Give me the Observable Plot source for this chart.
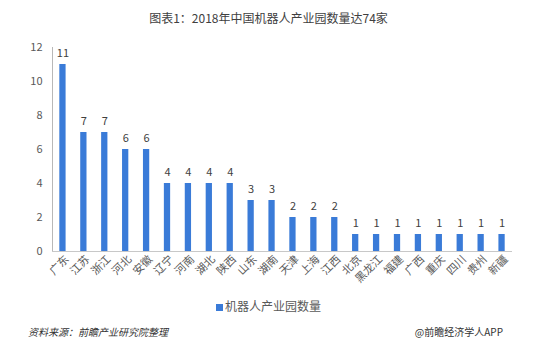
<!DOCTYPE html>
<html><head><meta charset="utf-8">
<script src="https://cdn.jsdelivr.net/npm/d3@7"></script>
<script src="https://cdn.jsdelivr.net/npm/@observablehq/plot@0.6"></script>
<style>
body{margin:0;background:#fff;font-family:"Noto Sans CJK SC","Noto Sans",sans-serif;}
#wrap{width:537px;height:359px;position:relative;overflow:hidden;}
#title{position:absolute;top:9px;left:0;width:537px;text-align:center;font-size:12px;color:#404040;}
#chart{position:absolute;top:30px;left:0;}
#legend{position:absolute;top:297px;left:0;width:537px;text-align:center;font-size:12px;color:#595959;}
#legend span.sw{display:inline-block;width:7px;height:7px;background:#3a7bd8;margin-right:2px;vertical-align:0px;}
#src{position:absolute;top:324px;left:28px;font-size:10px;font-style:italic;color:#333;}
#app{position:absolute;top:324px;right:34px;font-size:10px;color:#333;}
</style></head>
<body><div id="wrap">
<div id="title">图表1：2018年中国机器人产业园数量达74家</div>
<div id="chart"></div>
<div id="legend"><span class="sw"></span>机器人产业园数量</div>
<div id="src">资料来源：前瞻产业研究院整理</div>
<div id="app">@前瞻经济学人APP</div>
</div>
<script>
const provinces = ["广东","江苏","浙江","河北","安徽","辽宁","河南","湖北","陕西","山东","湖南","天津","上海","江西","北京","黑龙江","福建","广西","重庆","四川","贵州","新疆"];
const counts = [11,7,7,6,6,4,4,4,4,3,3,2,2,2,1,1,1,1,1,1,1,1];
const yTicks = [0,2,4,6,8,10,12];
const data = provinces.map((p,i)=>({p, v: counts[i]}));
const chart = Plot.plot({
  width: 537, height: 265,
  marginTop: 17, marginBottom: 44, marginLeft: 52, marginRight: 25,
  style: {fontFamily: '"Noto Sans CJK SC","Noto Sans",sans-serif', fontSize: "11px", color: "#595959", background: "transparent"},
  x: {domain: provinces, paddingInner: 0.7, paddingOuter: 0.35, round: false, label: null},
  y: {domain: [0,12], label: null},
  marks: [
    Plot.frame({anchor: "left", stroke: "#b8b8b8", strokeWidth: 1}),
    Plot.barY(data, {x: "p", y: "v", fill: "#3a7bd8"}),
    Plot.ruleY([0], {stroke: "#c8c8c8"}),
    Plot.text(data, {x: "p", y: "v", text: d => String(d.v), dy: -11, fill: "#404040", fontSize: 11}),
    Plot.axisY({ticks: yTicks, tickSize: 0, tickPadding: 10, fill: "#595959", fontSize: 11}),
    Plot.axisX({tickSize: 0, tickRotate: -45, tickPadding: 6, fill: "#595959", fontSize: 11, dx: 4})
  ]
});
document.getElementById("chart").appendChild(chart);
</script>
</body></html>
